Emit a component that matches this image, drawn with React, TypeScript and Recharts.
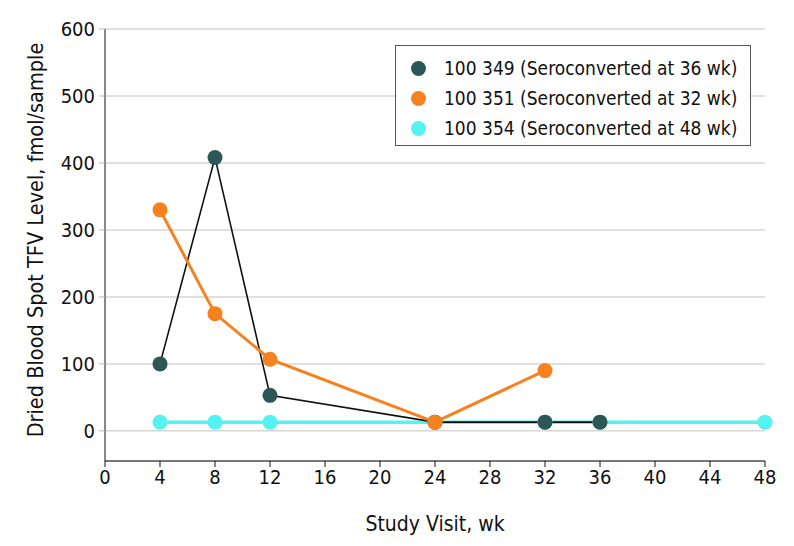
import { LineChart, Line, CartesianGrid, XAxis, YAxis } from 'recharts';

const weekTicks = [0, 4, 8, 12, 16, 20, 24, 28, 32, 36, 40, 44, 48];
const levelTicks = [0, 100, 200, 300, 400, 500, 600];

const weeks349 = [4, 8, 12, 24, 32, 36];
const levels349 = [100, 408, 53, 13, 13, 13];

const weeks351 = [4, 8, 12, 24, 32];
const levels351 = [330, 175, 107, 13, 90];

const weeks354 = [4, 8, 12, 24, 32, 36, 48];
const levels354 = [13, 13, 13, 13, 13, 13, 13];

const seriesNames = [
  '100 349 (Seroconverted at 36 wk)',
  '100 351 (Seroconverted at 32 wk)',
  '100 354 (Seroconverted at 48 wk)',
];
const seriesColors = ['#2d5755', '#f5821f', '#55f2f2'];

const toPoints = (weeks: number[], levels: number[]) =>
  weeks.map((w, i) => ({ week: w, level: levels[i] }));

const FONT = '"DejaVu Sans Condensed", "DejaVu Sans", sans-serif';

function LegendBox() {
  return (
    <div
      style={{
        position: 'absolute',
        left: 395,
        top: 45,
        width: 356,
        height: 101,
        boxSizing: 'border-box',
        border: '1.5px solid #555',
        background: '#fff',
        padding: '7px 0 0 15px',
        fontFamily: FONT,
        fontSize: 19,
        color: '#111',
      }}
    >
      {seriesNames.map((name, i) => (
        <div key={name} style={{ display: 'flex', alignItems: 'center', height: 30 }}>
          <span
            style={{
              width: 15,
              height: 15,
              borderRadius: '50%',
              background: seriesColors[i],
              marginRight: 18,
              display: 'inline-block',
              flexShrink: 0,
            }}
          />
          {name}
        </div>
      ))}
    </div>
  );
}

function YLabel() {
  return (
    <text
      x={35}
      y={240}
      transform="rotate(-90 35 240)"
      textAnchor="middle"
      dominantBaseline="central"
      fontFamily={FONT}
      fontSize={21.5}
      fill="#111"
    >
      Dried Blood Spot TFV Level, fmol/sample
    </text>
  );
}

export default function App() {
  const tickStyle = { fontFamily: FONT, fontSize: 20, fill: '#111' };
  return (
    <div style={{ position: 'absolute', left: 0, top: 0, width: 794, height: 546, background: '#fff' }}>
      <LineChart width={794} height={546} margin={{ top: 29, right: 29, bottom: 0, left: 0 }}>
        <CartesianGrid vertical={false} stroke="#d6d6d6" strokeWidth={1.5} />
        <XAxis
          type="number"
          dataKey="week"
          domain={[0, 48]}
          ticks={weekTicks}
          interval={0}
          height={85}
          stroke="#111"
          tick={tickStyle}
          tickSize={6}
          tickMargin={3}
          label={{
            value: 'Study Visit, wk',
            position: 'insideBottom',
            offset: 15,
            style: { ...tickStyle, fontSize: 21 },
          }}
        />
        <YAxis
          type="number"
          dataKey="level"
          domain={[-45, 600]}
          ticks={levelTicks}
          interval={0}
          width={105}
          axisLine={{ stroke: '#111' }}
          tickLine={{ stroke: '#bbb' }}
          tick={tickStyle}
          tickSize={6}
          tickMargin={4}
        />
        <YLabel />
        <Line
          data={toPoints(weeks354, levels354)}
          dataKey="level"
          name={seriesNames[2]}
          stroke={seriesColors[2]}
          strokeWidth={3.5}
          dot={{ r: 7.5, fill: seriesColors[2], stroke: 'none' }}
          activeDot={false}
          isAnimationActive={false}
        />
        <Line
          data={toPoints(weeks349, levels349)}
          dataKey="level"
          name={seriesNames[0]}
          stroke="#111"
          strokeWidth={1.6}
          dot={{ r: 7.5, fill: seriesColors[0], stroke: 'none' }}
          activeDot={false}
          isAnimationActive={false}
        />
        <Line
          data={toPoints(weeks351, levels351)}
          dataKey="level"
          name={seriesNames[1]}
          stroke={seriesColors[1]}
          strokeWidth={3}
          dot={{ r: 7.5, fill: seriesColors[1], stroke: 'none' }}
          activeDot={false}
          isAnimationActive={false}
        />
      </LineChart>
      <LegendBox />
    </div>
  );
}
